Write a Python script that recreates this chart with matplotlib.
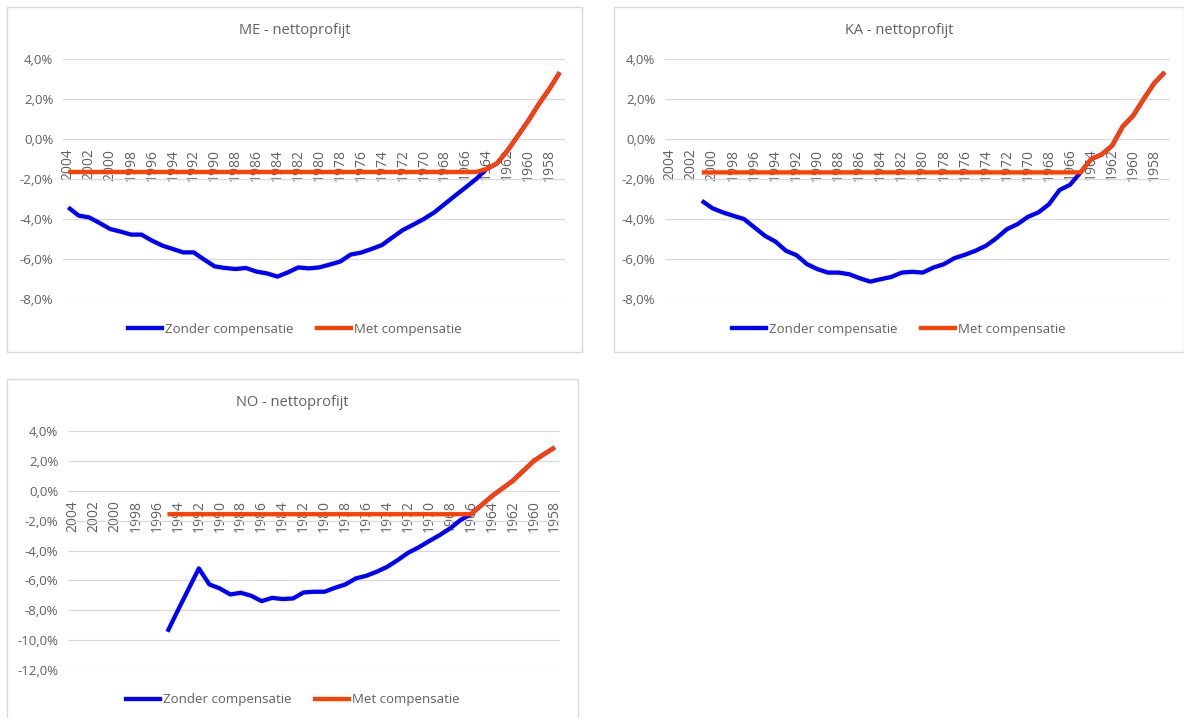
import numpy as np
import matplotlib.pyplot as plt
from matplotlib.patches import Rectangle
from matplotlib.lines import Line2D

nan = np.nan

# --- données (en %) ---
years_me = list(range(2004, 1956, -1))   # 2004..1957
me_zonder = [-3.42, -3.83, -3.92, -4.2, -4.5, -4.63, -4.78, -4.78, -5.08, -5.33,
             -5.5, -5.67, -5.67, -6.03, -6.37, -6.45, -6.5, -6.45, -6.63, -6.72,
             -6.88, -6.67, -6.42, -6.47, -6.42, -6.28, -6.13, -5.78, -5.68, -5.5,
             -5.3, -4.92, -4.55, -4.28, -4.0, -3.67, -3.25, -2.83, -2.42, -2.0,
             -1.5, -1.22, -0.58, 0.17, 0.92, 1.75, 2.5, 3.33]
me_met = [-1.65] * 40 + [-1.5, -1.22, -0.58, 0.17, 0.92, 1.75, 2.5, 3.33]

years_ka = list(range(2004, 1956, -1))   # 2004..1957
ka_zonder = [nan, nan, nan,
             -3.09, -3.46, -3.67, -3.84, -4.0, -4.42, -4.84, -5.13, -5.59, -5.81,
             -6.26, -6.51, -6.68, -6.68, -6.76, -6.96, -7.13, -7.01, -6.9, -6.68,
             -6.64, -6.68, -6.43, -6.26, -5.96, -5.79, -5.59, -5.34, -4.96, -4.51,
             -4.26, -3.89, -3.67, -3.26, -2.55, -2.29, -1.67,
             -1.0, -0.78, -0.33, 0.62, 1.17, 2.0, 2.79, 3.34]
ka_met = [nan] * 3 + [-1.67] * 37 + [-1.0, -0.78, -0.33, 0.62, 1.17, 2.0, 2.79, 3.34]

years_no = list(range(2004, 1957, -1))   # 2004..1958
no_zonder = [nan] * 9 + [
    -9.44, -8.0, -6.6, -5.2, -6.27, -6.54, -6.94, -6.83, -7.03, -7.39,
    -7.17, -7.25, -7.21, -6.81, -6.76, -6.76, -6.5, -6.27, -5.87, -5.69,
    -5.42, -5.09, -4.64, -4.15, -3.79, -3.37, -2.97, -2.52, -1.96, -1.57,
    -0.96, -0.36, 0.16, 0.67, 1.34, 2.0, 2.46, 2.9]
no_met = [nan] * 9 + [-1.57] * 30 + [-0.96, -0.36, 0.16, 0.67, 1.34, 2.0, 2.46, 2.9]

BLUE = '#0000FF'
ORANGE = '#FF4000'
GREY = '#606060'
GRID = '#D9D9D9'

plt.rcParams['font.family'] = ['Open Sans', 'DejaVu Sans']

W, H = 1184, 718
fig = plt.figure(figsize=(W / 100, H / 100), dpi=100)


def px_box(x0, y0, x1, y1):
    return [x0 / W, 1 - y1 / H, (x1 - x0) / W, (y1 - y0) / H]


def panel(frame, plot_area, title, years, zonder, met, ymin, ymax, title_y, legend_y):
    x0, y0, x1, y1 = frame
    fig.add_artist(Rectangle((x0 / W, 1 - y1 / H), (x1 - x0) / W, (y1 - y0) / H,
                             transform=fig.transFigure, fill=False, ec=GRID, lw=1))
    cx = (x0 + x1) / 2
    fig.text(cx / W, 1 - title_y / H, title, ha='center', va='center',
             fontsize=10.5, color=GREY)

    ax = fig.add_axes(px_box(*plot_area))
    n = len(years)
    x = np.arange(n)
    ax.plot(x, zonder, color=BLUE, lw=3.1, solid_joinstyle='round', solid_capstyle='butt')
    ax.plot(x, met, color=ORANGE, lw=3.1, solid_joinstyle='round', solid_capstyle='butt')

    ax.set_xlim(-0.5, n - 0.5)
    ax.set_ylim(ymin, ymax)
    yt = np.arange(ymin, ymax + 1, 2)
    ax.set_yticks(yt)
    ax.set_yticklabels([f"{v:.1f}%".replace('.', ',') for v in yt])
    ax.grid(axis='y', color=GRID, lw=0.9)
    ax.set_axisbelow(True)
    for s in ax.spines.values():
        s.set_visible(False)
    # axe des catégories qui croise à 0
    ax.spines['bottom'].set_position(('data', 0))
    ax.set_xticks(x[::2])
    ax.set_xticklabels([str(y) for y in years[::2]], rotation=90)
    ax.tick_params(axis='x', length=0, pad=7, labelsize=10, labelcolor=GREY)
    ax.tick_params(axis='y', length=0, pad=7, labelsize=9.5, labelcolor=GREY)
    ax.patch.set_alpha(0)

    handles = [Line2D([], [], color=BLUE, lw=3.1), Line2D([], [], color=ORANGE, lw=3.1)]
    fig.legend(handles, ['Zonder compensatie', 'Met compensatie'], loc='center',
               bbox_to_anchor=(cx / W, 1 - legend_y / H), ncol=2, frameon=False,
               fontsize=9.5, labelcolor=GREY, handlelength=2.6, handletextpad=0.2,
               columnspacing=1.8)
    return ax


panel((7, 7, 582, 352), (63, 59, 565, 299), 'ME - nettoprofijt',
      years_me, me_zonder, me_met, -8, 4, 30, 329)
panel((614, 7, 1183.5, 352), (665, 59, 1170, 299), 'KA - nettoprofijt',
      years_ka, ka_zonder, ka_met, -8, 4, 30, 329)
panel((7, 379, 578, 720), (68, 431, 560, 670), 'NO - nettoprofijt',
      years_no, no_zonder, no_met, -12, 4, 403, 700)

fig.savefig('out.png', dpi=100)
